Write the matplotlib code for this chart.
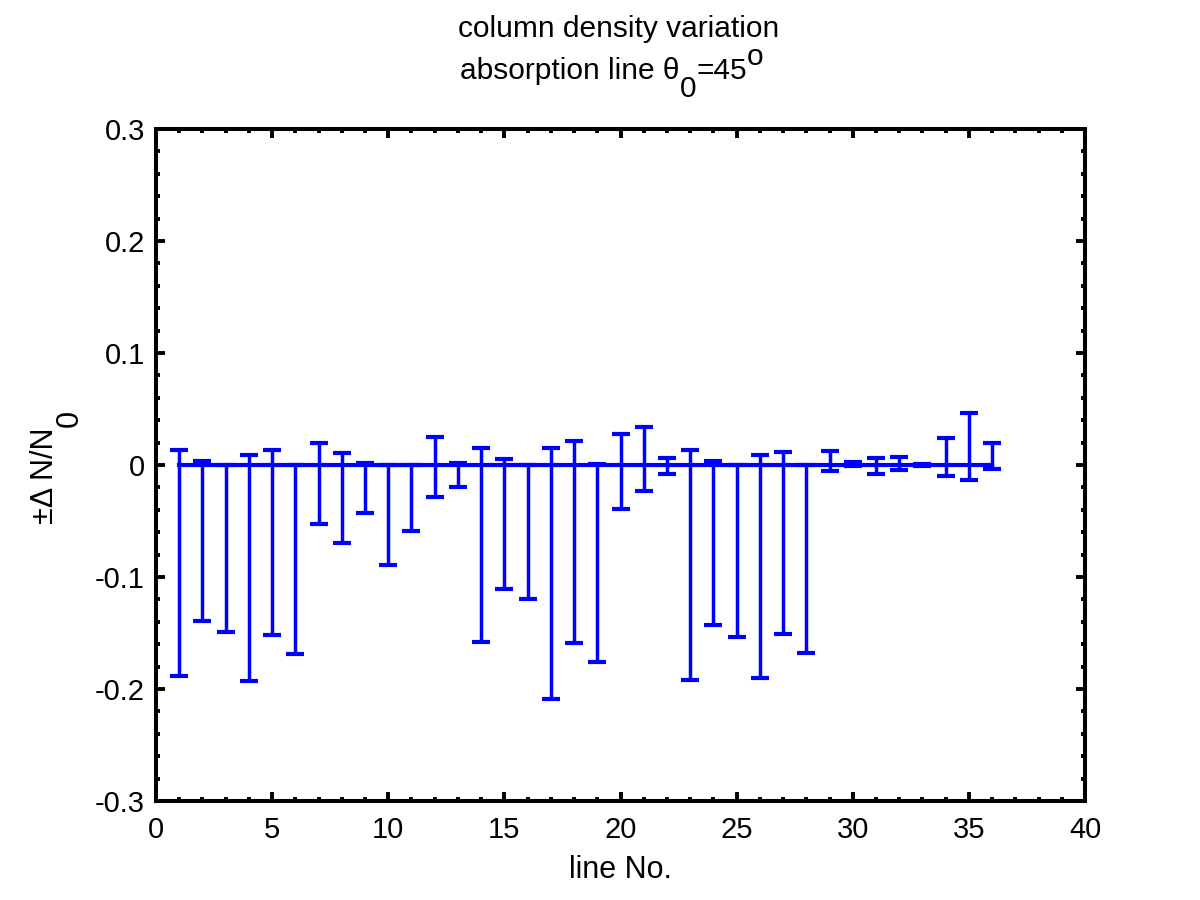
import matplotlib
matplotlib.use("Agg")
import matplotlib.pyplot as plt
import numpy as np
from matplotlib.ticker import MultipleLocator

plt.rcParams['font.family'] = ['Liberation Sans', 'DejaVu Sans']

line_no = list(range(1, 37))
center = [0.0] * 36
upper = [0.013, 0.004, 0.0, 0.009, 0.013, 0.0, 0.020, 0.0105, 0.0016, 0.0, 0.0,
         0.025, 0.002, 0.015, 0.005, 0.0, 0.015, 0.021, 0.001, 0.028, 0.034, 0.006,
         0.013, 0.004, 0.0, 0.009, 0.0113, 0.0, 0.0123, 0.003, 0.006, 0.007, 0.0012,
         0.024, 0.046, 0.020]
lower = [-0.188, -0.139, -0.149, -0.193, -0.152, -0.169, -0.053, -0.070, -0.043,
         -0.0895, -0.059, -0.029, -0.020, -0.158, -0.111, -0.120, -0.209, -0.159,
         -0.176, -0.0395, -0.0235, -0.008, -0.192, -0.143, -0.154, -0.190, -0.151,
         -0.168, -0.0056, -0.001, -0.008, -0.0047, -0.001, -0.010, -0.0136, -0.004]
x_ticks = [0, 5, 10, 15, 20, 25, 30, 35, 40]
y_ticks = [-0.3, -0.2, -0.1, 0.0, 0.1, 0.2, 0.3]
y_ticklabels = ['-0.3', '-0.2', '-0.1', '0', '0.1', '0.2', '0.3']

W, H = 1200, 900
x = np.array(line_no)
c = np.array(center)
up = np.array(upper) - c
lo = c - np.array(lower)

fig = plt.figure(figsize=(12, 9), dpi=100)
ax = fig.add_axes([156 / W, 1 - 801 / H, (1085 - 156) / W, (801 - 129) / H])

ax.errorbar(x, c, yerr=[lo, up], color='#0000ff', lw=3.0, elinewidth=2.5,
            capsize=6.2, capthick=3.0)

ax.set_xlim(0, 40)
ax.set_ylim(-0.3, 0.3)
ax.set_xticks(x_ticks)
ax.set_xticklabels([str(t) for t in x_ticks])
ax.set_yticks(y_ticks)
ax.set_yticklabels(y_ticklabels)
ax.xaxis.set_minor_locator(MultipleLocator(1))
ax.yaxis.set_minor_locator(MultipleLocator(0.02))
ax.tick_params(which='both', direction='in', top=True, right=True, width=2.8,
               labelsize=21)
ax.tick_params(axis='y', pad=8)
ax.tick_params(axis='x', pad=11)
ax.tick_params(which='major', length=6.5)
ax.tick_params(which='minor', length=3.0)
for s in ax.spines.values():
    s.set_linewidth(2.9)

renderer = fig.canvas.get_renderer()


def pieces_text(pieces, start_px, base_px, fs, rotate=False, center=True):
    # pieces: list of (string, offset_px) ; offset measured perpendicular to baseline
    objs = []
    widths = []
    for s, off in pieces:
        t = fig.text(0, 0, s, fontsize=fs, ha='left', va='baseline')
        widths.append(t.get_window_extent(renderer).width)
        objs.append((t, off))
    total = sum(widths)
    pos = start_px - total / 2 if center else start_px
    for (t, off), w in zip(objs, widths):
        if not rotate:
            t.set_position((pos / W, 1 - (base_px + off) / H))
            pos += w
        else:
            t.set_rotation(90)
            t.set_rotation_mode('anchor')
            t.set_position(((base_px + off) / W, 1 - pos / H))
            pos -= w
    return objs


# Title line 1
fig.text(619 / W, 1 - 37 / H, 'column density variation', fontsize=21.5,
         ha='center', va='baseline')
# Title line 2 with full-size sub/superscripts
pieces_text([('absorption line θ', 0), ('0', 18), ('=45', 0), ('o', -14)],
            612, 79, 21.5)

# x label
fig.text(620 / W, 1 - 878 / H, 'line No.', fontsize=22, ha='center', va='baseline')

# y label (rotated), runs bottom->top starting around center
objs = []
ylab = [('±Δ N/N', 0), ('0', 25)]
tmp_w = []
for s, off in ylab:
    t = fig.text(0, 0, s, fontsize=22, ha='left', va='baseline')
    tmp_w.append(t.get_window_extent(renderer).width)
    objs.append((t, off))
tot = sum(tmp_w)
pos = 467 + tot / 2
for (t, off), w in zip(objs, tmp_w):
    t.set_rotation(90)
    t.set_rotation_mode('anchor')
    t.set_position(((53 + off) / W, 1 - pos / H))
    pos -= w

fig.savefig('out.png', dpi=100)
